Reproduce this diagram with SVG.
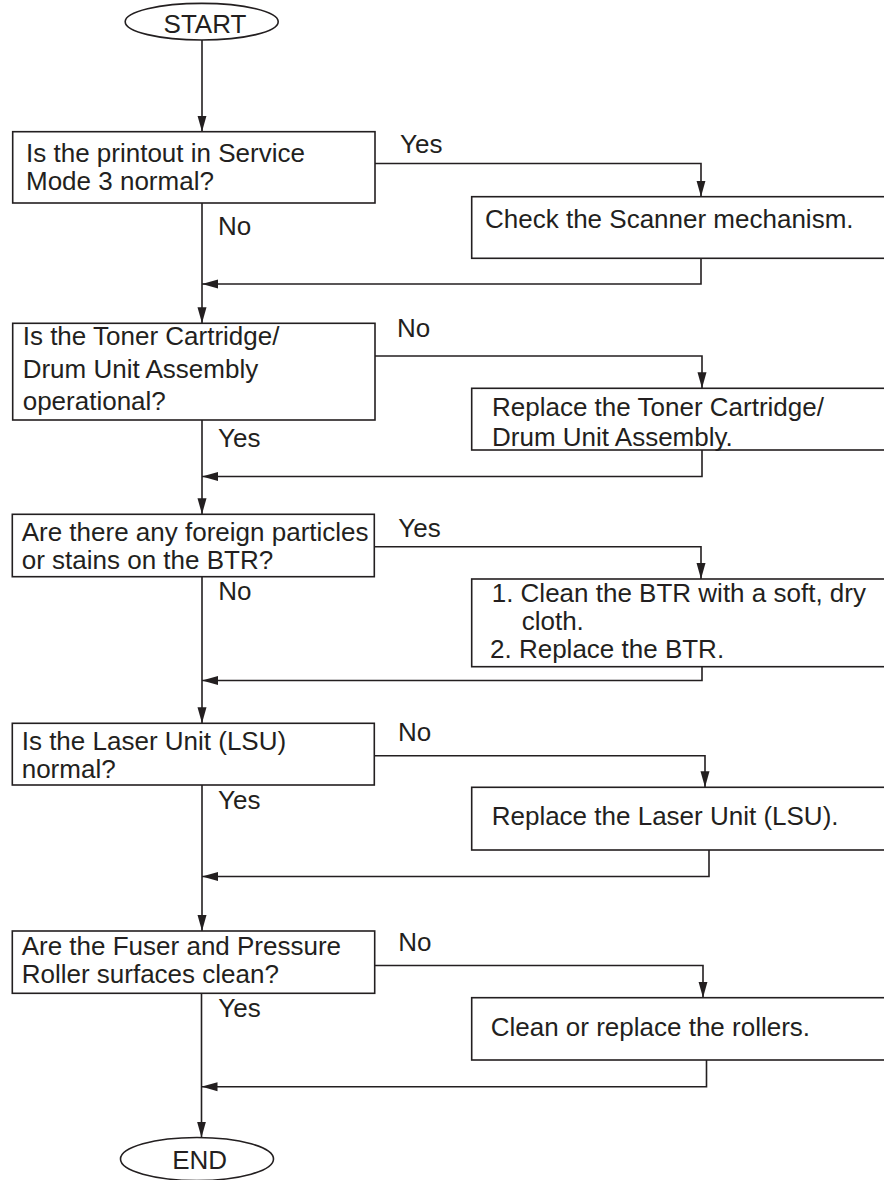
<svg xmlns="http://www.w3.org/2000/svg" width="884" height="1180" viewBox="0 0 884 1180">
  <defs>
    <marker id="arrow" markerUnits="userSpaceOnUse" viewBox="0 0 16 10" markerWidth="16" markerHeight="10" refX="16" refY="5" orient="auto">
      <path d="M0,0.5 L16,5 L0,9.5 z" fill="#231f20"/>
    </marker>
    <style>
      .box { fill: #fff; stroke: #231f20; stroke-width: 1.6; }
      .wire { fill: none; stroke: #231f20; stroke-width: 1.6; marker-end: url(#arrow); }
      text { font-family: "Liberation Sans", Arial, Helvetica, sans-serif; font-size: 26px; fill: #231f20; }
      .mid { text-anchor: middle; }
    </style>
  </defs>
  <rect width="884" height="1180" fill="#fff"/>

  <!-- connectors: main spine, branches and return paths -->
  <g id="connectors">
    <path class="wire" d="M202,40 V131.7"/>
    <path class="wire" d="M202,203 V323.3"/>
    <path class="wire" d="M202,420 V514.3"/>
    <path class="wire" d="M202,576.7 V723.3"/>
    <path class="wire" d="M202,785 V931"/>
    <path class="wire" d="M201.5,993.3 V1137.5"/>

    <path class="wire" d="M375,163.5 H701 V196.7"/>
    <path class="wire" d="M701,258.3 V284 H202"/>
    <path class="wire" d="M375,356 H702 V388.3"/>
    <path class="wire" d="M702,450 V476.5 H202"/>
    <path class="wire" d="M374.5,546.7 H701 V579"/>
    <path class="wire" d="M702,666.7 V680.5 H202"/>
    <path class="wire" d="M374.5,755.7 H705 V787.3"/>
    <path class="wire" d="M709,850 V876.5 H202"/>
    <path class="wire" d="M374.5,965.5 H703 V997.7"/>
    <path class="wire" d="M706.5,1060 V1086.7 H201.5"/>
  </g>

  <!-- branch labels -->
  <g id="labels">
    <text x="400" y="153">Yes</text>
    <text x="218" y="235">No</text>
    <text x="397" y="337">No</text>
    <text x="218" y="447">Yes</text>
    <text x="398.3" y="537">Yes</text>
    <text x="218.3" y="600">No</text>
    <text x="398" y="740.7">No</text>
    <text x="218" y="809.3">Yes</text>
    <text x="398.3" y="951">No</text>
    <text x="218.3" y="1017.3">Yes</text>
  </g>

  <g id="start">
    <ellipse class="box" cx="201.7" cy="21.7" rx="76.5" ry="18.3"/>
    <text class="mid" x="205" y="33.3">START</text>
  </g>

  <g id="check-service-mode">
    <rect class="box" x="12.7" y="131.7" width="362.3" height="71.3"/>
    <text x="26" y="162">Is the printout in Service</text>
    <text x="26" y="190">Mode 3 normal?</text>
  </g>

  <g id="check-scanner">
    <rect class="box" x="471.7" y="196.7" width="430" height="61.6"/>
    <text x="485" y="228.3">Check the Scanner mechanism.</text>
  </g>

  <g id="check-toner-drum">
    <rect class="box" x="12.7" y="323.3" width="362.3" height="96.7"/>
    <text x="22.7" y="345">Is the Toner Cartridge/</text>
    <text x="22.7" y="378">Drum Unit Assembly</text>
    <text x="22.7" y="410">operational?</text>
  </g>

  <g id="replace-toner-drum">
    <rect class="box" x="471.7" y="388.3" width="430" height="61.7"/>
    <text x="492" y="416">Replace the Toner Cartridge/</text>
    <text x="492" y="446">Drum Unit Assembly.</text>
  </g>

  <g id="check-btr">
    <rect class="box" x="12.3" y="514.3" width="362" height="62.4"/>
    <text x="21.7" y="540.7">Are there any foreign particles</text>
    <text x="21.7" y="569.3">or stains on the BTR?</text>
  </g>

  <g id="clean-btr">
    <rect class="box" x="471.7" y="579" width="430" height="87.7"/>
    <text x="491.7" y="601.7">1. Clean the BTR with a soft, dry</text>
    <text x="521.7" y="630">cloth.</text>
    <text x="490" y="658.3">2. Replace the BTR.</text>
  </g>

  <g id="check-lsu">
    <rect class="box" x="12.3" y="723.3" width="362" height="61.7"/>
    <text x="21.7" y="750">Is the Laser Unit (LSU)</text>
    <text x="21.7" y="778">normal?</text>
  </g>

  <g id="replace-lsu">
    <rect class="box" x="471.7" y="787.3" width="430" height="62.7"/>
    <text x="491.7" y="825">Replace the Laser Unit (LSU).</text>
  </g>

  <g id="check-rollers">
    <rect class="box" x="12.3" y="931" width="362.4" height="62.3"/>
    <text x="21.7" y="955">Are the Fuser and Pressure</text>
    <text x="21.7" y="983.3">Roller surfaces clean?</text>
  </g>

  <g id="clean-rollers">
    <rect class="box" x="471.7" y="997.7" width="430" height="62.3"/>
    <text x="490.7" y="1036">Clean or replace the rollers.</text>
  </g>

  <g id="end">
    <ellipse class="box" cx="197" cy="1159" rx="76.5" ry="21.5"/>
    <text class="mid" x="199.7" y="1169">END</text>
  </g>
</svg>
